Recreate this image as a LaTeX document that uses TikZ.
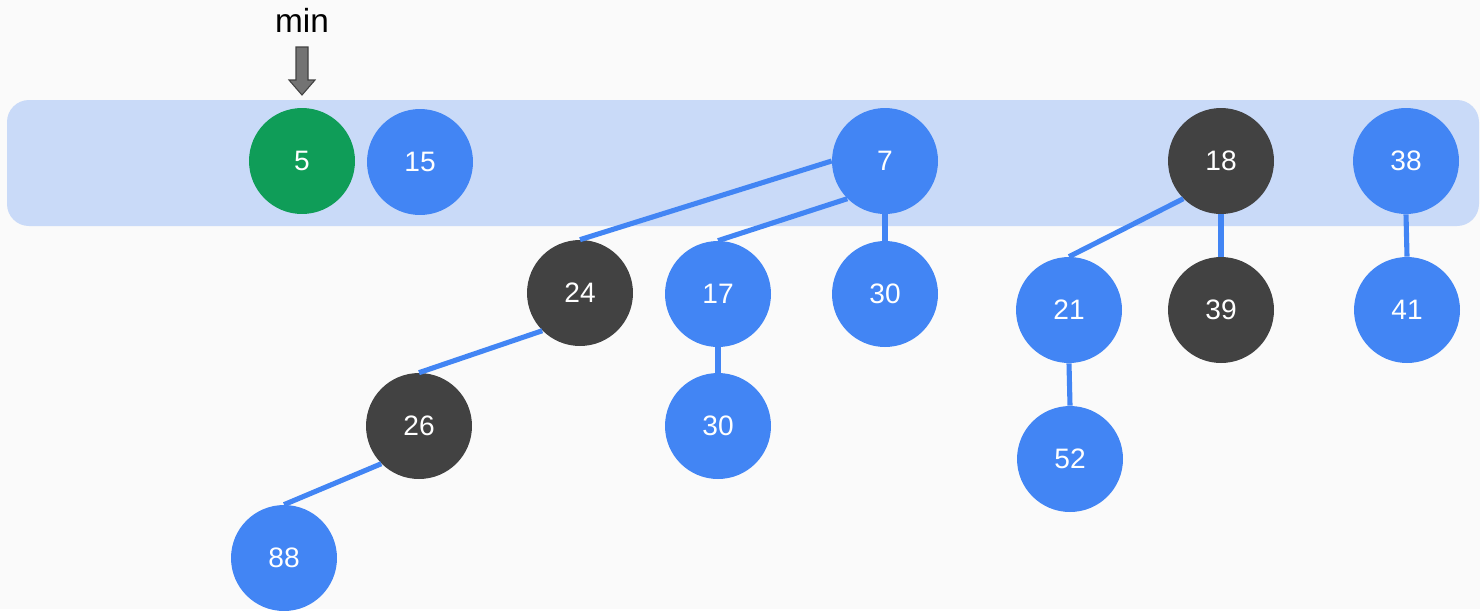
\documentclass[tikz,border=0pt]{standalone}
\usepackage{fontspec}
\setmainfont{Liberation Sans}
\usetikzlibrary{positioning}

\definecolor{paper}{HTML}{FAFAFA}
\definecolor{rootlist}{HTML}{C9DAF8}
\definecolor{keyblue}{HTML}{4285F4}
\definecolor{keydark}{HTML}{424242}
\definecolor{keymin}{HTML}{0F9D58}

\tikzset{
  key/.style={circle,minimum size=2.12cm,inner sep=0pt,text=white,
    font=\fontsize{16}{18}\selectfont},
  blue key/.style={key,fill=keyblue},
  dark key/.style={key,fill=keydark},
  min key/.style={key,fill=keymin},
  child/.style={draw=keyblue,line width=2.9pt}
}

\begin{document}
\begin{tikzpicture}[x=0.02cm,y=-0.02cm]
\fill[paper] (0,0) rectangle (1480,609);
% root list band
\fill[rootlist,rounded corners=0.44cm] (7,100) rectangle (1479,226);

% min pointer
\node (minlabel) at (302,20) {\fontsize{19}{22}\selectfont min};
\filldraw[fill=black!55,draw=keydark,line width=0.6pt]
  (296,47) -- (308,47) -- (308,80) -- (315,80) -- (302,95) -- (289,80) -- (296,80) -- cycle;

% roots
\node[min key]  (r5)  at (302,161) {5};
\node[blue key] (r15) at (420,162) {15};
\node[blue key] (r7)  at (885,161) {7};
\node[dark key] (r18) at (1221,161) {18};
\node[blue key] (r38) at (1406,161) {38};

% children
\node[dark key] (n24) at (580,293) {24};
\node[blue key] (n17) at (718,294) {17};
\node[blue key] (n30a) at (885,294) {30};
\node[dark key] (n26) at (419,426) {26};
\node[blue key] (n30b) at (718,426) {30};
\node[blue key] (n88) at (284,558) {88};
\node[blue key] (n21) at (1069,310) {21};
\node[dark key] (n39) at (1221,310) {39};
\node[blue key] (n52) at (1070,459) {52};
\node[blue key] (n41) at (1407,310) {41};

% links to children
\draw[child] (r7.west) -- (n24.north);
\draw[child] (r7.south west) -- (n17.north);
\draw[child] (r7.south) -- (n30a.north);
\draw[child] (n24.south west) -- (n26.north);
\draw[child] (n17.south) -- (n30b.north);
\draw[child] (n26.south west) -- (n88.north);
\draw[child] (r18.south west) -- (n21.north);
\draw[child] (r18.south) -- (n39.north);
\draw[child] (n21.south) -- (n52.north);
\draw[child] (r38.south) -- (n41.north);
\end{tikzpicture}
\end{document}
